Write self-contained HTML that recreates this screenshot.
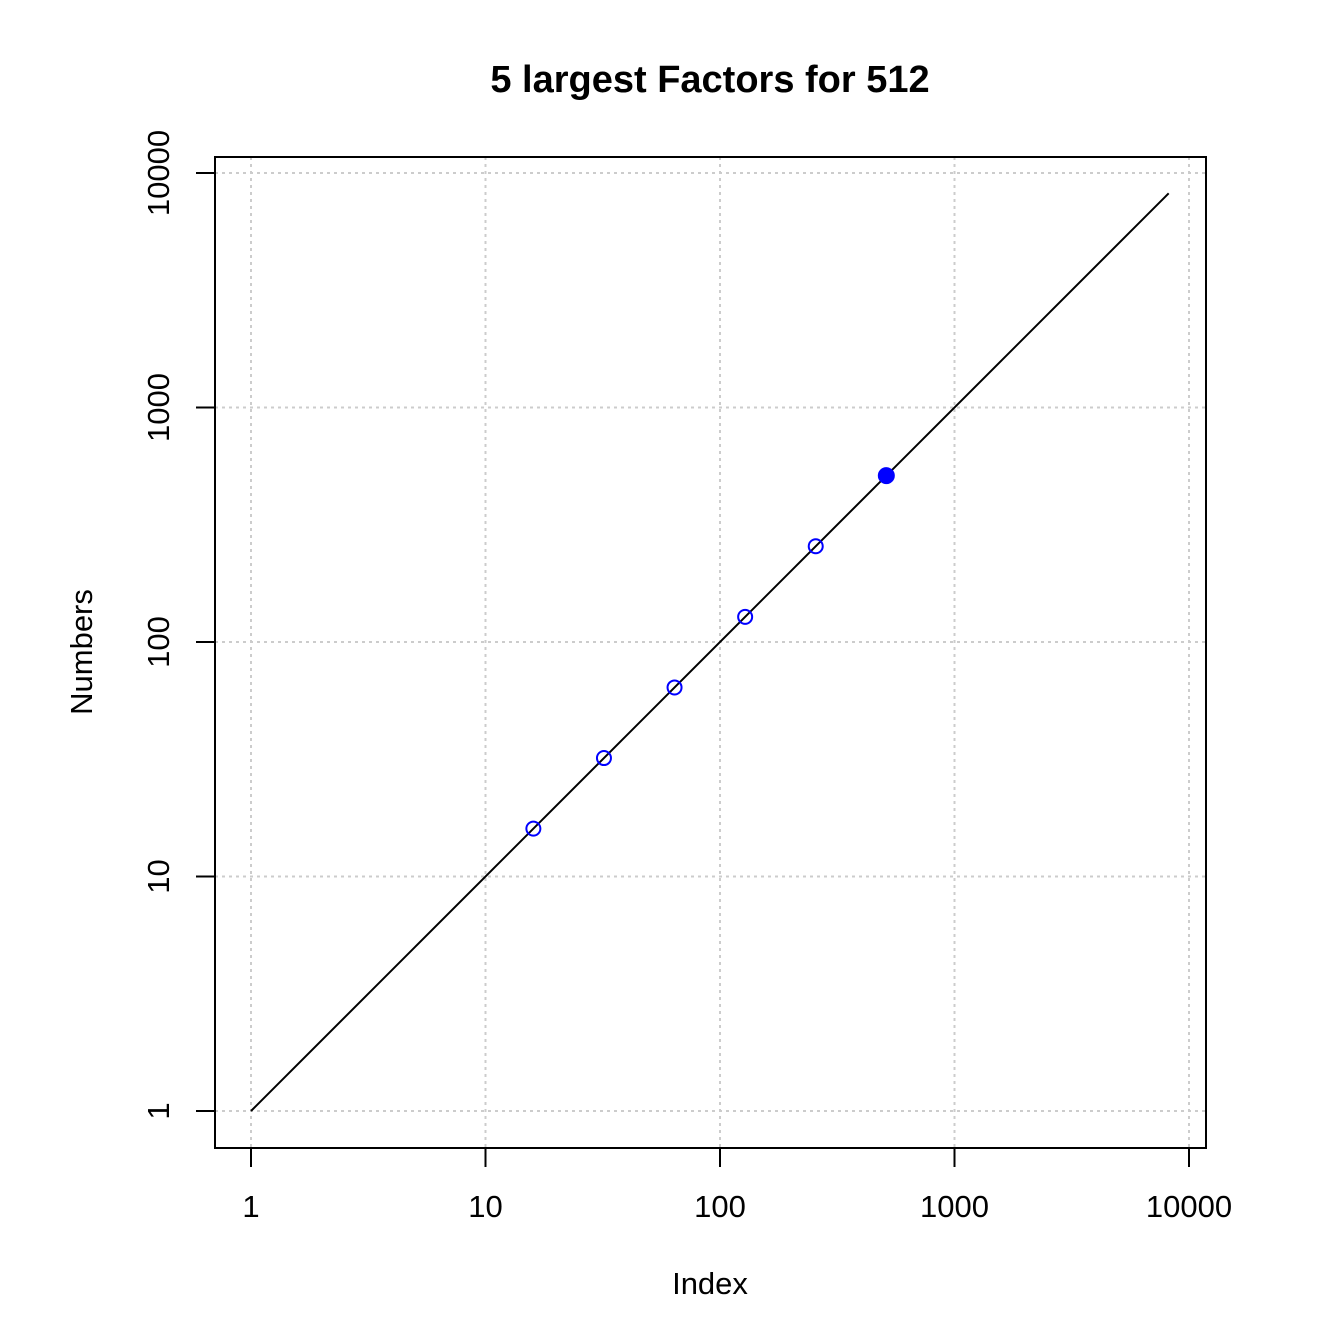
<!DOCTYPE html>
<html><head><meta charset="utf-8"><style>
html,body{margin:0;padding:0;background:#fff;}
svg{display:block;font-family:"Liberation Sans",Arial,sans-serif;}
</style></head><body>
<svg id="chart" width="1344" height="1344" viewBox="0 0 1344 1344">
<rect width="1344" height="1344" fill="#fff"/>
<text x="710" y="92" text-anchor="middle" font-size="38" font-weight="bold">5 largest Factors for 512</text>
<text x="710" y="1294" text-anchor="middle" font-size="31">Index</text>
<text x="0" y="0" transform="translate(92,652) rotate(-90)" text-anchor="middle" font-size="31">Numbers</text>
<g id="grid"></g>
<g id="axes"></g>
<g id="marks"></g>
<rect x="215" y="157" width="991" height="991" fill="none" stroke="#000" stroke-width="2"/>
</svg>
<script>
const xTicks = [1, 10, 100, 1000, 10000];
const yTicks = [1, 10, 100, 1000, 10000];
const tickLabels = ["1", "10", "100", "1000", "10000"];
const lineStart = [1, 1];
const lineEnd = [8192, 8192];
const pointsX = [16, 32, 64, 128, 256, 512];
const pointsY = [16, 32, 64, 128, 256, 512];
const filledFlags = [false, false, false, false, false, true];

const NS = "http://www.w3.org/2000/svg";
function xs(v){ return 251 + Math.log10(v) * 234.5; }
function ys(v){ return 1111 - Math.log10(v) * 234.5; }
function mk(tag, attrs, parent){ const e = document.createElementNS(NS, tag); for (const k in attrs) e.setAttribute(k, attrs[k]); parent.appendChild(e); return e; }
const grid = document.getElementById('grid'), axes = document.getElementById('axes'), marks = document.getElementById('marks');

xTicks.forEach((t, i) => {
  const x = xs(t);
  const g = mk('line', {x1:x, x2:x, y1:157, y2:1148, stroke:'#ccc', 'stroke-width':2, 'stroke-dasharray':'3,4'}, grid);
  
  
  const tk = mk('line', {x1:x, x2:x, y1:1148, y2:1167, stroke:'#000', 'stroke-width':2}, axes);
  
  
  const lb = mk('text', {x:x, y:1217, 'text-anchor':'middle', 'font-size':31}, axes);
  lb.textContent = tickLabels[i];
  
  
});
yTicks.forEach((t, i) => {
  const y = ys(t);
  const g = mk('line', {x1:215, x2:1206, y1:y, y2:y, stroke:'#ccc', 'stroke-width':2, 'stroke-dasharray':'3,4'}, grid);
  
  
  const tk = mk('line', {x1:196, x2:215, y1:y, y2:y, stroke:'#000', 'stroke-width':2}, axes);
  
  
  const lb = mk('text', {x:0, y:0, transform:`translate(169,${y}) rotate(-90)`, 'text-anchor':'middle', 'font-size':31}, axes);
  lb.textContent = tickLabels[i];
  
  
});
const ln = mk('line', {x1:xs(lineStart[0]), y1:ys(lineStart[1]), x2:xs(lineEnd[0]), y2:ys(lineEnd[1]), stroke:'#000', 'stroke-width':2}, marks);


pointsX.forEach((v, i) => {
  const f = filledFlags[i];
  const c = mk('circle', {cx:xs(v), cy:ys(pointsY[i]), r:f ? 7.5 : 7, fill:f ? '#0000ff' : 'none', stroke:'#0000ff', 'stroke-width':2}, marks);
  
  
});
</script>
</body></html>
